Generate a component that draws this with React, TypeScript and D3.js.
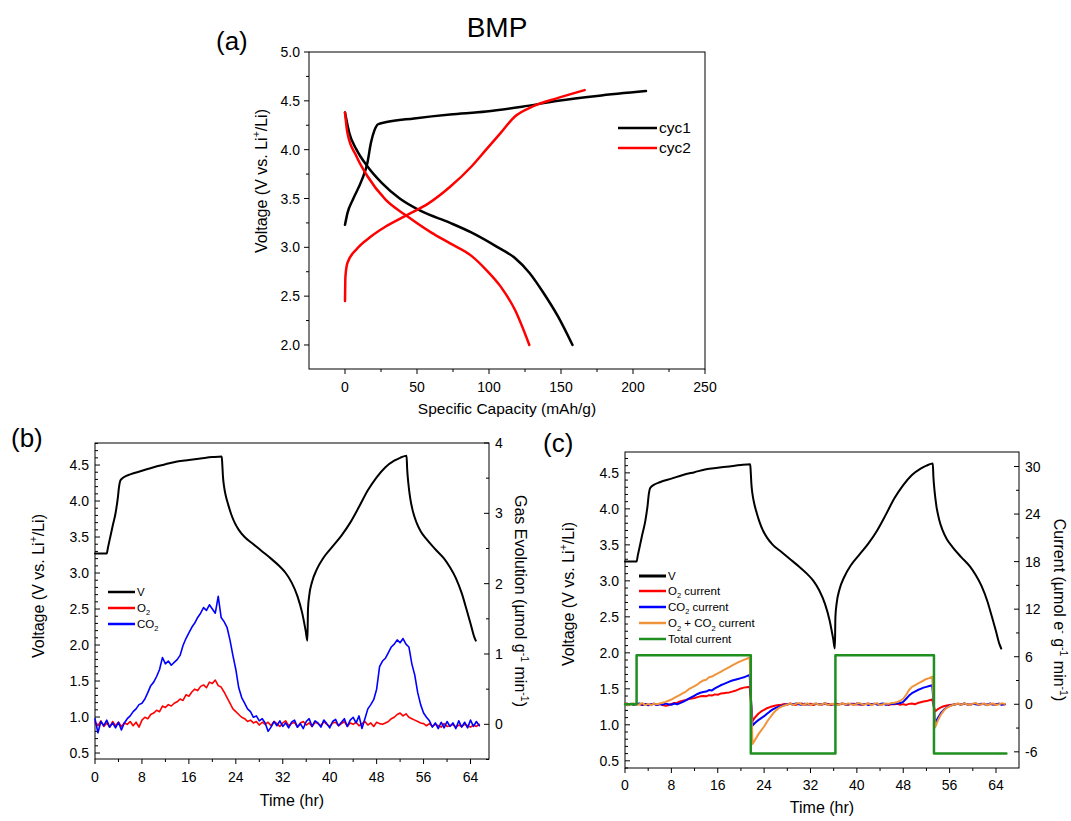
import React from "react";
import * as d3 from "d3";

type Pt = [number, number];

// ---------------- data ----------------
// Panel (a): specific capacity (mAh/g) vs voltage
const cyc1Charge: Pt[] = [[0, 3.23], [1.7, 3.35], [5.5, 3.49], [11.7, 3.69], [15.5, 3.86], [18, 4.07], [20.5, 4.2], [23, 4.26], [28, 4.28], [48, 4.32], [73, 4.36], [98, 4.39], [123, 4.44], [148, 4.5], [175, 4.55], [209, 4.6]];
const cyc1Discharge: Pt[] = [[0, 4.38], [3, 4.17], [8, 4.0], [15.5, 3.83], [25.5, 3.66], [38, 3.5], [53, 3.37], [73, 3.25], [88, 3.15], [105, 3.01], [118, 2.89], [128, 2.74], [138, 2.53], [148, 2.29], [158, 2.0]];
const cyc2Charge: Pt[] = [[0, 2.45], [0.3, 2.7], [1.7, 2.84], [8, 2.98], [18, 3.11], [28, 3.21], [43, 3.33], [58, 3.45], [73, 3.62], [88, 3.83], [98, 4.0], [108, 4.17], [118, 4.34], [130, 4.44], [148, 4.53], [166.4, 4.61]];
const cyc2Discharge: Pt[] = [[0, 4.38], [1.7, 4.17], [8, 3.93], [15.5, 3.73], [28, 3.49], [43, 3.32], [60, 3.15], [73, 3.04], [88, 2.91], [98, 2.77], [108, 2.6], [118, 2.36], [128, 2.0]];

// Panels (b), (c): voltage vs time (hr)
const voltage: Pt[] = [[0, 3.27], [2.0, 3.27], [2.2, 3.35], [2.6, 3.5], [3.0, 3.65], [3.5, 3.83], [3.9, 4.05], [4.1, 4.2], [4.35, 4.29], [4.9, 4.33], [6, 4.37], [8, 4.42], [10, 4.47], [12, 4.51], [14, 4.55], [16, 4.57], [18, 4.59], [20, 4.61], [21.6, 4.62],
  [21.7, 4.5], [21.8, 4.35], [22.0, 4.2], [22.3, 4.07], [22.7, 3.95], [23.2, 3.82], [23.8, 3.7], [24.5, 3.6], [25.5, 3.5], [27, 3.4], [28.5, 3.3], [30, 3.2], [31.5, 3.09], [32.5, 3.0], [33.5, 2.87], [34.5, 2.68], [35.3, 2.45], [35.9, 2.2], [36.2, 2.06],
  [36.3, 2.5], [36.5, 2.68], [37, 2.88], [37.8, 3.05], [39, 3.22], [40.5, 3.37], [42, 3.52], [43.5, 3.7], [45, 3.92], [46.5, 4.15], [48, 4.33], [49.5, 4.47], [51, 4.56], [52, 4.6], [53.1, 4.63],
  [53.2, 4.45], [53.4, 4.25], [53.7, 4.05], [54.2, 3.85], [54.8, 3.7], [55.5, 3.58], [56.5, 3.47], [58, 3.33], [59.5, 3.2], [60.5, 3.08], [61.5, 2.93], [62.5, 2.72], [63.3, 2.5], [64, 2.3], [64.6, 2.12], [64.9, 2.06]];

// sampled every 0.5 hr starting at 0 hr
const SAMPLE_STEP = 0.5;

// Panel (b): gas evolution (umol g-1 min-1)
const gasCO2 = [0.08, -0.12, 0.04, -0.02, 0.06, -0.04, 0.02, -0.05, 0.03, -0.08, 0.02, 0.08, 0.12, 0.18, 0.22, 0.28, 0.3, 0.36, 0.45, 0.55, 0.6, 0.68, 0.78, 0.95, 0.86, 0.9, 0.84, 0.88, 0.92, 0.98, 1.12, 1.22, 1.3, 1.38, 1.44, 1.52, 1.58, 1.66, 1.62, 1.7, 1.64, 1.58, 1.82, 1.52, 1.46, 1.38, 1.2, 0.98, 0.78, 0.52, 0.38, 0.3, 0.22, 0.18, 0.1, 0.12, 0.05, 0.08, 0.02, -0.1, -0.04,
  0.04, -0.02, 0.05, -0.03, 0.02, -0.05, 0.03, 0.06, -0.04, 0.01, -0.06, 0.04, 0.08, -0.03, 0.05, 0.02, -0.04, 0.06, 0.01, -0.05, 0.04, 0.07, -0.02, 0.03, 0.08, -0.03, 0.06, 0.1, 0.02, 0.12, -0.06, 0.08,
  0.22, 0.28, 0.35, 0.5, 0.82, 0.9, 0.94, 1.02, 1.1, 1.14, 1.2, 1.16, 1.22, 1.14, 1.1, 0.86, 0.7, 0.45, 0.28, 0.16, 0.1, 0.05,
  -0.04, 0.02, -0.06, 0.03, -0.05, 0.04, -0.03, 0.02, -0.06, 0.05, -0.04, 0.03, -0.05, 0.06, -0.03, 0.04, -0.02];
const gasO2 = [0.03, -0.02, 0.05, -0.03, 0.02, -0.04, 0.04, -0.02, 0.03, -0.03, 0.02, 0.0, 0.04, -0.02, 0.03, -0.04, 0.06,
  0.1, 0.08, 0.14, 0.16, 0.2, 0.18, 0.26, 0.24, 0.28, 0.26, 0.3, 0.32, 0.36, 0.34, 0.42, 0.4, 0.46, 0.5, 0.48, 0.54, 0.56, 0.52, 0.6, 0.58, 0.63, 0.55, 0.53,
  0.46, 0.38, 0.3, 0.22, 0.18, 0.14, 0.1, 0.08, 0.04, 0.06, 0.02, 0.04, -0.01,
  0.03, 0.0, 0.03, -0.02, 0.04, 0.01, -0.03, 0.02, 0.05, -0.02, 0.01, 0.03, -0.04, 0.02, 0.04, -0.01, 0.02, -0.03, 0.03, 0.01, -0.02, 0.04, 0.0, -0.03, 0.02, 0.03, -0.02, 0.01, 0.04, -0.03, 0.02, 0.0, 0.03, -0.02, 0.01, 0.04, -0.01, 0.02, -0.03, 0.03, 0.01, 0.0, 0.02,
  0.04, 0.08, 0.1, 0.14, 0.16, 0.12, 0.15, 0.1, 0.08, 0.06, 0.04, 0.02, 0.01,
  -0.02, 0.01, -0.03, 0.0, -0.02, -0.04, 0.01, -0.03, -0.02, 0.0, -0.04, -0.01, -0.03, 0.0, -0.02, -0.04, -0.01, -0.03, 0.0];

// Panel (c): currents (umol e- g-1 min-1)
const curO2 = [0.1, -0.1, 0.05, -0.05, 0.1, 0.0, -0.1, 0.05, 0.0, -0.08, 0.06, -0.05, 0.02, -0.1, -0.2, -0.12,
  0.05, 0.15, 0.2, 0.35, 0.45, 0.55, 0.65, 0.72, 0.8, 0.9, 1.0, 1.05, 1.0, 1.15, 1.1, 1.25, 1.2, 1.35, 1.4, 1.45, 1.5, 1.6, 1.7, 1.85, 2.0, 2.1, 2.15, 2.2,
  -2.1, -1.6, -1.2, -0.9, -0.7, -0.5, -0.35, -0.25, -0.15, -0.1, -0.05,
  0.05, -0.05, 0.1, 0.0, -0.08, 0.05, 0.1, -0.05, 0.0, 0.08, -0.1, 0.05, 0.0, -0.05, 0.1, 0.05, -0.08, 0.0, 0.06, -0.04, 0.1, 0.0, -0.06, 0.05, 0.08, -0.02, 0.0, -0.08, 0.05, 0.1, -0.05, 0.02, 0.08, -0.06, 0.0, 0.05, -0.1, 0.04, 0.0, 0.06, -0.05, 0.02, -0.08, 0.05, 0.1, 0.0, 0.15,
  0.25, 0.35, 0.4, 0.5, 0.6,
  -0.9, -0.6, -0.4, -0.25, -0.15, -0.1, -0.05, 0.0,
  0.05, -0.05, 0.08, 0.0, -0.06, 0.05, 0.1, -0.04, 0.0, 0.06, -0.08, 0.04, 0.0, -0.05, 0.08, 0.02, -0.04];
const curCO2 = [0.05, -0.1, 0.08, -0.05, 0.0, 0.1, -0.08, 0.05, -0.12, 0.0, 0.06, -0.1, 0.04, -0.05, 0.08, 0.0, -0.06, 0.1, 0.0,
  0.15, 0.3, 0.5, 0.7, 0.9, 1.1, 1.3, 1.45, 1.55, 1.6, 1.8, 1.75, 2.0, 2.2, 2.4, 2.55, 2.7, 2.85, 3.0, 3.1, 3.2, 3.3, 3.4, 3.55, 3.7,
  -2.7, -2.3, -2.0, -1.75, -1.5, -1.2, -0.9, -0.65, -0.45, -0.3, -0.2, -0.1, 0.0,
  0.05, -0.05, 0.1, 0.0, -0.08, 0.06, 0.0, -0.1, 0.05, 0.08, -0.04, 0.0, 0.1, -0.06, 0.04, 0.0, -0.1, 0.05, 0.08, -0.05, 0.0, 0.06, -0.08, 0.1, 0.0, -0.04, 0.05, -0.1, 0.0, 0.08, -0.05, 0.04, 0.1, -0.06, 0.0, 0.05, 0.08, 0.1,
  0.15, 0.3, 0.7, 1.1, 1.4, 1.6, 1.8, 1.95, 2.1, 2.2, 2.3, 2.4,
  -2.4, -1.7, -1.1, -0.7, -0.4, -0.2, -0.1, 0.0,
  0.06, -0.05, 0.1, 0.0, -0.08, 0.05, 0.0, -0.06, 0.08, 0.0, -0.05, 0.1, -0.04, 0.0, 0.06, -0.08, 0.04];
const curSum = [0.1, -0.15, 0.05, 0.12, -0.08, 0.0, 0.15, -0.1, 0.05, -0.12, 0.08, 0.0, 0.1,
  0.2, 0.3, 0.45, 0.6, 0.8, 1.0, 1.2, 1.4, 1.6, 1.9, 2.1, 2.3, 2.5, 2.8, 3.0, 3.1, 3.4, 3.5, 3.7,
  3.9, 4.1, 4.3, 4.5, 4.7, 4.9, 5.1, 5.3, 5.45, 5.6, 5.75, 5.9,
  -5.0, -4.4, -3.8, -3.3, -2.8, -2.2, -1.7, -1.2, -0.8, -0.5, -0.3, -0.15, -0.05,
  0.1, -0.1, 0.05, 0.15, -0.05, 0.0, 0.12, -0.12, 0.05, 0.1, -0.08, 0.0, 0.15, -0.1, 0.05, 0.08, -0.12, 0.0, 0.1, -0.05, 0.12, 0.0, -0.1, 0.08, 0.15, -0.05, 0.0, 0.1, -0.12, 0.05, 0.12, -0.08, 0.0, 0.1, 0.05, 0.15,
  0.2, 0.3, 0.45, 0.7, 1.2, 1.8, 2.2, 2.4, 2.6, 2.8, 3.0, 3.2, 3.3, 3.5,
  -2.9, -2.0, -1.3, -0.8, -0.45, -0.25, -0.1, 0.0,
  0.1, -0.08, 0.12, 0.0, -0.1, 0.08, 0.15, -0.05, 0.0, 0.1, -0.12, 0.05, 0.1, -0.08, 0.0, 0.12, 0.05];
const totalCurrent: Pt[] = [[0, 0], [2.0, 0], [2.0, 6.2], [21.7, 6.2], [21.7, -6.2], [36.3, -6.2], [36.3, 6.2], [53.3, 6.2], [53.3, -6.2], [65.8, -6.2]];

// ticks
const aXTicks = [0, 50, 100, 150, 200, 250];
const aXMinor = [25, 75, 125, 175, 225];
const aYTicks = [2.0, 2.5, 3.0, 3.5, 4.0, 4.5, 5.0];
const aYMinor = [2.25, 2.75, 3.25, 3.75, 4.25, 4.75];
const timeTicks = [0, 8, 16, 24, 32, 40, 48, 56, 64];
const timeMinor = [4, 12, 20, 28, 36, 44, 52, 60];
const vTicks = [0.5, 1.0, 1.5, 2.0, 2.5, 3.0, 3.5, 4.0, 4.5];
const gasTicks = [0, 1, 2, 3, 4];
const gasMinor = [-0.5, 0.5, 1.5, 2.5, 3.5];
const curTicks = [-6, 0, 6, 12, 18, 24, 30];
const curMinor = [-3, 3, 9, 15, 21, 27];

// ---------------- helpers ----------------
const FONT = '"Liberation Sans", Arial, Helvetica, sans-serif';
const sampled = (vals: number[]): Pt[] => vals.map((v, i) => [i * SAMPLE_STEP, v]);

type Scale = d3.ScaleLinear<number, number>;

function Path({ data, x, y, color, width, curve }: { data: Pt[]; x: Scale; y: Scale; color: string; width: number; curve?: d3.CurveFactory }) {
  const gen = d3.line<Pt>().x((d) => x(d[0])).y((d) => y(d[1])).curve(curve ?? d3.curveLinear);
  return <path d={gen(data) ?? ""} fill="none" stroke={color} strokeWidth={width} strokeLinejoin="round" strokeLinecap="round" />;
}

function YTicks({ scale, x, majors, minors, side, inward, fmt, gap, fs }: { scale: Scale; x: number; majors: number[]; minors: number[]; side: "left" | "right"; inward: boolean; fmt: (v: number) => string; gap: number; fs: number }) {
  const s = (side === "left" ? -1 : 1) * (inward ? -1 : 1);
  return (
    <g>
      {minors.map((v, i) => (
        <line key={"m" + i} x1={x} x2={x + s * 3} y1={scale(v)} y2={scale(v)} stroke="#000" strokeWidth={1} />
      ))}
      {majors.map((v, i) => (
        <g key={"M" + i}>
          <line x1={x} x2={x + s * 5} y1={scale(v)} y2={scale(v)} stroke="#000" strokeWidth={1} />
          <text x={side === "left" ? x - gap : x + gap} y={scale(v)} dy="0.36em" textAnchor={side === "left" ? "end" : "start"} fontSize={fs} fontFamily={FONT} fill="#000">
            {fmt(v)}
          </text>
        </g>
      ))}
    </g>
  );
}

function XTicks({ scale, y, majors, minors, inward, off, fs }: { scale: Scale; y: number; majors: number[]; minors: number[]; inward: boolean; off: number; fs: number }) {
  const s = inward ? -1 : 1;
  return (
    <g>
      {minors.map((v, i) => (
        <line key={"m" + i} x1={scale(v)} x2={scale(v)} y1={y} y2={y + s * 3} stroke="#000" strokeWidth={1} />
      ))}
      {majors.map((v, i) => (
        <g key={"M" + i}>
          <line x1={scale(v)} x2={scale(v)} y1={y} y2={y + s * 5} stroke="#000" strokeWidth={1} />
          <text x={scale(v)} y={y + off} textAnchor="middle" fontSize={fs} fontFamily={FONT} fill="#000">
            {String(v)}
          </text>
        </g>
      ))}
    </g>
  );
}

function Frame({ x0, x1, y0, y1 }: { x0: number; x1: number; y0: number; y1: number }) {
  return <rect x={x0} y={y0} width={x1 - x0} height={y1 - y0} fill="none" stroke="#000" strokeWidth={1} />;
}

function VoltTitle({ x, y, fs }: { x: number; y: number; fs: number }) {
  return (
    <text transform={`translate(${x},${y}) rotate(-90)`} textAnchor="middle" dy="0.35em" fontSize={fs} fontFamily={FONT} fill="#000">
      Voltage (V vs. Li<tspan dy={-fs * 0.4} fontSize={fs * 0.65}>+</tspan>
      <tspan dy={fs * 0.4}>/Li)</tspan>
    </text>
  );
}

function Sub({ base, sub, rest, fs }: { base: string; sub: string; rest: string; fs: number }) {
  return (
    <>
      {base}
      <tspan dy={fs * 0.3} fontSize={fs * 0.65}>{sub}</tspan>
      <tspan dy={-fs * 0.3}>{rest}</tspan>
    </>
  );
}

// ---------------- layout ----------------
const A = { x0: 309, x1: 705, y0: 52, y1: 369 };
const B = { x0: 95, x1: 489, y0: 443, y1: 759 };
const C = { x0: 625, x1: 1019, y0: 452, y1: 768 };

export default function App() {
  const aX = d3.scaleLinear().domain([-25, 250]).range([A.x0, A.x1]);
  const aY = d3.scaleLinear().domain([1.754, 5.0]).range([A.y1, A.y0]);

  const bX = d3.scaleLinear().domain([0, 67.15]).range([B.x0, B.x1]);
  const bYL = d3.scaleLinear().domain([0.417, 4.806]).range([B.y1, B.y0]);
  const bYR = d3.scaleLinear().domain([-0.493, 4]).range([B.y1, B.y0]);

  const cX = d3.scaleLinear().domain([0, 67.97]).range([C.x0, C.x1]);
  const cYL = d3.scaleLinear().domain([0.4, 4.79]).range([C.y1, C.y0]);
  const cYR = d3.scaleLinear().domain([-8.04, 31.83]).range([C.y1, C.y0]);

  const vMinorB = d3.range(5, 49).map((i) => i / 10).filter((v) => Math.round(v * 10) % 5 !== 0 && v >= 0.417 && v <= 4.806);
  const vMinorC = d3.range(4, 48).map((i) => i / 10).filter((v) => Math.round(v * 10) % 5 !== 0 && v >= 0.4 && v <= 4.79);
  const f1 = (v: number) => v.toFixed(1);
  const f0 = (v: number) => String(v);
  const mono = d3.curveMonotoneX;

  const red = "#ff0000";
  const blue = "#0000ff";
  const orange = "#f0943c";
  const green = "#1f8f1f";

  return (
    <svg width={1071} height={821} style={{ position: "absolute", left: 0, top: 0, background: "#fff" }}>
      <rect width={1071} height={821} fill="#fff" />

      {/* ---------- panel (a) ---------- */}
      <text x={497} y={37} textAnchor="middle" fontSize={28} fontFamily={FONT}>BMP</text>
      <text x={216} y={50} fontSize={26} fontFamily={FONT}>(a)</text>
      <Frame {...A} />
      <YTicks scale={aY} x={A.x0} majors={aYTicks} minors={aYMinor} side="left" inward={false} fmt={f1} gap={9} fs={14} />
      <XTicks scale={aX} y={A.y1} majors={aXTicks} minors={aXMinor} inward={false} off={23} fs={14} />
      <VoltTitle x={261} y={181} fs={16} />
      <text x={507} y={414} textAnchor="middle" fontSize={15.5} fontFamily={FONT}>Specific Capacity (mAh/g)</text>
      <Path data={cyc1Charge} x={aX} y={aY} color="#000" width={2.5} curve={mono} />
      <Path data={cyc1Discharge} x={aX} y={aY} color="#000" width={2.5} curve={mono} />
      <Path data={cyc2Charge} x={aX} y={aY} color={red} width={2.5} curve={mono} />
      <Path data={cyc2Discharge} x={aX} y={aY} color={red} width={2.5} curve={mono} />
      <g fontFamily={FONT} fontSize={15.5}>
        <line x1={618} x2={657} y1={128} y2={128} stroke="#000" strokeWidth={2.5} />
        <text x={659} y={128} dy="0.35em">cyc1</text>
        <line x1={618} x2={657} y1={148} y2={148} stroke={red} strokeWidth={2.5} />
        <text x={659} y={148} dy="0.35em">cyc2</text>
      </g>

      {/* ---------- panel (b) ---------- */}
      <text x={11} y={447} fontSize={26} fontFamily={FONT}>(b)</text>
      <Frame {...B} />
      <YTicks scale={bYL} x={B.x0} majors={vTicks} minors={vMinorB} side="left" inward={true} fmt={f1} gap={6} fs={14} />
      <YTicks scale={bYR} x={B.x1} majors={gasTicks} minors={gasMinor} side="right" inward={true} fmt={f0} gap={6} fs={14} />
      <XTicks scale={bX} y={B.y1} majors={timeTicks} minors={timeMinor} inward={false} off={22.5} fs={14} />
      <VoltTitle x={38} y={586} fs={16} />
      <text transform={`translate(521,601) rotate(90)`} textAnchor="middle" dy="0.35em" fontSize={16} fontFamily={FONT}>
        Gas Evolution (µmol g<tspan dy={-6} fontSize={10.5}>-1</tspan>
        <tspan dy={6}> min</tspan>
        <tspan dy={-6} fontSize={10.5}>-1</tspan>
        <tspan dy={6}>)</tspan>
      </text>
      <text x={292} y={806} textAnchor="middle" fontSize={16} fontFamily={FONT}>Time (hr)</text>
      <Path data={sampled(gasO2)} x={bX} y={bYR} color={red} width={1.6} />
      <Path data={sampled(gasCO2)} x={bX} y={bYR} color={blue} width={1.6} />
      <Path data={voltage} x={bX} y={bYL} color="#000" width={2} curve={mono} />
      <g fontFamily={FONT} fontSize={11.5}>
        <line x1={108} x2={135} y1={592} y2={592} stroke="#000" strokeWidth={2.5} />
        <text x={137} y={592} dy="0.35em">V</text>
        <line x1={108} x2={135} y1={608} y2={608} stroke={red} strokeWidth={2.5} />
        <text x={137} y={608} dy="0.35em"><Sub base="O" sub="2" rest="" fs={11.5} /></text>
        <line x1={108} x2={135} y1={624} y2={624} stroke={blue} strokeWidth={2.5} />
        <text x={137} y={624} dy="0.35em"><Sub base="CO" sub="2" rest="" fs={11.5} /></text>
      </g>

      {/* ---------- panel (c) ---------- */}
      <text x={543} y={452} fontSize={26} fontFamily={FONT}>(c)</text>
      <Frame {...C} />
      <YTicks scale={cYL} x={C.x0} majors={vTicks} minors={vMinorC} side="left" inward={true} fmt={f1} gap={6} fs={14} />
      <YTicks scale={cYR} x={C.x1} majors={curTicks} minors={curMinor} side="right" inward={true} fmt={f0} gap={6} fs={14} />
      <XTicks scale={cX} y={C.y1} majors={timeTicks} minors={timeMinor} inward={false} off={22} fs={14} />
      <VoltTitle x={568} y={594} fs={16} />
      <text transform={`translate(1060,610) rotate(90)`} textAnchor="middle" dy="0.35em" fontSize={16} fontFamily={FONT}>
        Current (µmol e<tspan dy={-6} fontSize={10.5}>-</tspan>
        <tspan dy={6}> g</tspan>
        <tspan dy={-6} fontSize={10.5}>-1</tspan>
        <tspan dy={6}> min</tspan>
        <tspan dy={-6} fontSize={10.5}>-1</tspan>
        <tspan dy={6}>)</tspan>
      </text>
      <text x={822} y={813} textAnchor="middle" fontSize={16} fontFamily={FONT}>Time (hr)</text>
      <Path data={sampled(curO2)} x={cX} y={cYR} color={red} width={2} />
      <Path data={sampled(curCO2)} x={cX} y={cYR} color={blue} width={2} />
      <Path data={sampled(curSum)} x={cX} y={cYR} color={orange} width={2} />
      <Path data={totalCurrent} x={cX} y={cYR} color={green} width={2.5} />
      <Path data={voltage} x={cX} y={cYL} color="#000" width={2} curve={mono} />
      <g fontFamily={FONT} fontSize={11.5}>
        <line x1={639} x2={666} y1={576} y2={576} stroke="#000" strokeWidth={3} />
        <text x={668} y={576} dy="0.35em">V</text>
        <line x1={639} x2={666} y1={591} y2={591} stroke={red} strokeWidth={2.5} />
        <text x={668} y={591} dy="0.35em"><Sub base="O" sub="2" rest=" current" fs={11.5} /></text>
        <line x1={639} x2={666} y1={607} y2={607} stroke={blue} strokeWidth={2.5} />
        <text x={668} y={607} dy="0.35em"><Sub base="CO" sub="2" rest=" current" fs={11.5} /></text>
        <line x1={639} x2={666} y1={623} y2={623} stroke={orange} strokeWidth={2.5} />
        <text x={668} y={623} dy="0.35em">
          O<tspan dy={3.5} fontSize={7.5}>2</tspan>
          <tspan dy={-3.5}> + CO</tspan>
          <tspan dy={3.5} fontSize={7.5}>2</tspan>
          <tspan dy={-3.5}> current</tspan>
        </text>
        <line x1={639} x2={666} y1={639} y2={639} stroke={green} strokeWidth={2.5} />
        <text x={668} y={639} dy="0.35em">Total current</text>
      </g>
    </svg>
  );
}
